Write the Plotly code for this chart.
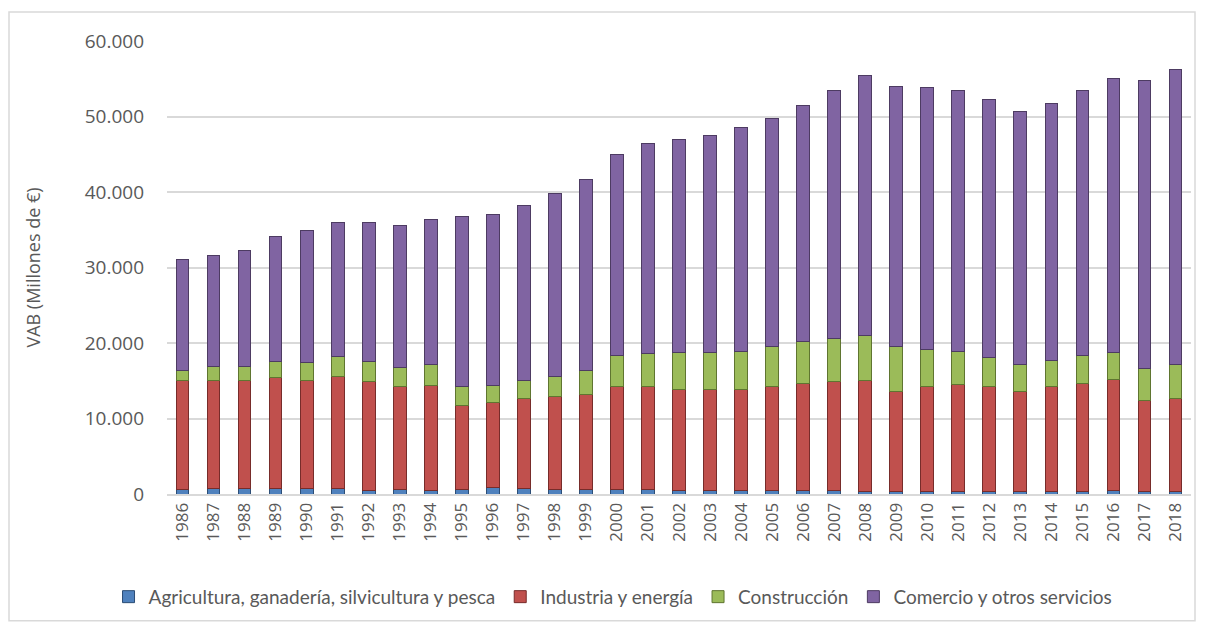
import plotly.graph_objects as go

years = [str(y) for y in range(1986, 2019)]

agricultura = [600, 700, 700, 700, 700, 700, 500, 600, 500, 600, 900, 700, 600, 600, 600, 600, 500,
               500, 500, 400, 400, 400, 300, 300, 300, 300, 300, 300, 300, 300, 400, 300, 300]
industria = [14400, 14300, 14300, 14700, 14300, 14900, 14400, 13600, 13900, 11100, 11200, 11900, 12300,
             12600, 13600, 13600, 13400, 13400, 13400, 13800, 14300, 14500, 14700, 13300, 13900, 14200,
             13900, 13300, 13900, 14400, 14800, 12100, 12300]
construccion = [1300, 1900, 1900, 2200, 2400, 2600, 2700, 2600, 2800, 2500, 2300, 2500, 2600, 3100, 4100,
                4400, 4800, 4900, 5000, 5400, 5500, 5700, 6000, 6000, 4900, 4400, 3900, 3500, 3500, 3600,
                3600, 4200, 4500]
comercio = [14700, 14700, 15300, 16500, 17500, 17800, 18300, 18800, 19100, 22500, 22600, 23100, 24300,
            25400, 26700, 27800, 28200, 28700, 29600, 30200, 31300, 32800, 34400, 34400, 34700, 34500,
            34200, 33500, 34000, 35100, 36300, 38200, 39100]

series = [
    ("Agricultura, ganadería, silvicultura y pesca", agricultura, "#4F81BD", "#2C4D75"),
    ("Industria y energía", industria, "#C0504D", "#772C2A"),
    ("Construcción", construccion, "#9BBB59", "#5F7530"),
    ("Comercio y otros servicios", comercio, "#8064A2", "#4D3B62"),
]

fig = go.Figure()
for name, vals, col, line in series:
    fig.add_trace(go.Bar(
        x=years, y=vals, name=name,
        marker=dict(color=col, line=dict(color=line, width=1)),
    ))

font_family = "Open Sans, DejaVu Sans, sans-serif"

fig.update_layout(
    barmode="stack",
    bargap=0.59,
    width=1191, height=614,
    margin=dict(l=159, r=8, t=33, b=128, autoexpand=False),
    paper_bgcolor="white",
    plot_bgcolor="white",
    separators=",.",
    font=dict(family=font_family, color="#595959"),
    showlegend=True,
    legend=dict(
        orientation="h", xref="container", x=0.508, xanchor="center",
        y=-0.185, yanchor="top",
        font=dict(size=19, color="#595959", family="Lato, Open Sans, sans-serif"),
        traceorder="normal", itemwidth=30,
    ),
    xaxis=dict(
        type="category", tickangle=-90, tickfont=dict(size=17, color="#595959"),
        showline=True, linecolor="#D9D9D9", linewidth=2, ticks="",
        showgrid=False, automargin=False,
    ),
    yaxis=dict(
        range=[0, 60000], dtick=10000, tickformat=",.0f",
        tickfont=dict(size=19, color="#595959"),
        showgrid=True, gridcolor="#D9D9D9", gridwidth=1.5,
        zeroline=False, showline=False, ticks="",
        title=dict(text="VAB (Millones de €)", font=dict(size=18, color="#595959"), standoff=39),
        ticklabelstandoff=22, automargin=False,
    ),
    shapes=[dict(
        type="rect", xref="paper", yref="paper",
        x0=-0.1543, x1=1.0039, y0=-0.280, y1=1.064,
        line=dict(color="#D9D9D9", width=1.5), fillcolor="rgba(0,0,0,0)", layer="below",
    )],
)

fig.write_html("out.html")
